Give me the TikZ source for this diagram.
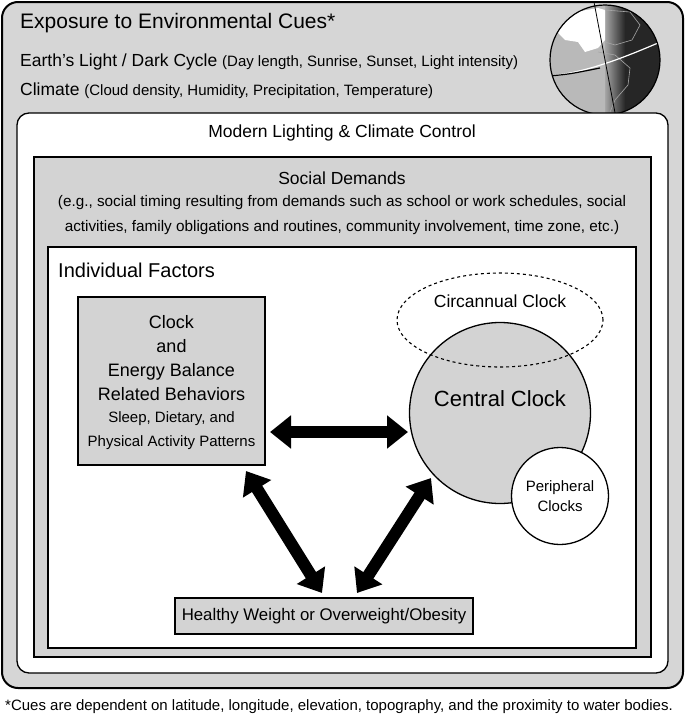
\documentclass[tikz,border=0pt]{standalone}
\usepackage{fontspec}
\setmainfont{Liberation Sans}
\usetikzlibrary{arrows.meta,shapes.geometric}
\definecolor{outg}{HTML}{D6D6D6}
\definecolor{boxg}{HTML}{D3D3D3}
\tikzset{
  t/.style={inner sep=0pt,font=\fontsize{17.5pt}{20pt}\selectfont},
  ts/.style={inner sep=0pt,font=\fontsize{15pt}{17pt}\selectfont},
  big/.style={line width=12pt,{Triangle[width=32pt,length=21pt]}-{Triangle[width=32pt,length=21pt]},shorten <=0pt,shorten >=0pt},
  frame/.style={draw=black,line width=1.3pt}
}
\begin{document}
\begin{tikzpicture}[x=1pt,y=-1pt]
\useasboundingbox (0,0) rectangle (685,728);
% outer
\draw[frame,line width=2pt,fill=outg,rounded corners=16pt] (2,2) rectangle (683,688);
\node[t,anchor=west,font=\fontsize{21pt}{23pt}\selectfont] (title) at (20,23) {Exposure to Environmental Cues*};
\node[t,anchor=west] (earth) at (20,62) {Earth's Light / Dark Cycle {\fontsize{15pt}{17pt}\selectfont(Day length, Sunrise, Sunset, Light intensity)}};
\node[t,anchor=west] (clim) at (20,91) {Climate {\fontsize{15pt}{17pt}\selectfont(Cloud density, Humidity, Precipitation, Temperature)}};
% globe
\begin{scope}
\clip (605,60) circle (55);
\fill[gray!55] (550,0) rectangle (610,120);
\shade[left color=gray!70,right color=black!85] (605,0) rectangle (625,120);
\fill[black!85] (625,0) rectangle (665,120);
\fill[white] (555,30) -- (575,12) -- (598,8) -- (605,10) -- (605,40) -- (598,48) -- (585,52) -- (578,42) -- (565,40) -- cycle;
\draw[gray!70,line width=0.6pt] (605,10) -- (630,12) -- (640,25) -- (632,40) -- (615,45) -- (605,42);
\draw[gray!70,line width=0.6pt] (598,52) -- (615,55) -- (630,68) -- (628,85) -- (615,100) -- (610,112);
\draw[white,line width=1.2pt] (550,76) .. controls (590,72) and (630,55) .. (665,40);
\draw[black,line width=1.2pt] (550,76) .. controls (570,74) .. (600,68);
\end{scope}
\draw[line width=1.2pt] (605,60) circle (55);
\draw[line width=0.8pt] (594,2) -- (616,118);
% modern lighting
\draw[frame,fill=white,rounded corners=12pt] (17,113) rectangle (668,673);
\node[t] (modern) at (342,133) {Modern Lighting \& Climate Control};
% social
\draw[frame,fill=boxg] (34,157) rectangle (651,657);
\node[t] (social) at (342,178) {Social Demands};
\node[ts,align=center,font=\fontsize{15.3pt}{25pt}\selectfont] (eg) at (342,215) {(e.g., social timing resulting from demands such as school or work schedules, social\\activities, family obligations and routines, community involvement, time zone, etc.)};
% individual
\draw[frame,fill=white] (48,247) rectangle (636,648);
\node[t,anchor=west,font=\fontsize{20pt}{22pt}\selectfont] (ind) at (58,270) {Individual Factors};
% clock box
\node[frame,fill=boxg,minimum width=187pt,minimum height=168pt,inner sep=0pt] (cbox) at (171.5,381) {};
\node[t,align=center,font=\fontsize{18pt}{24pt}\selectfont] (cbt) at (171.5,358) {Clock\\and\\Energy Balance\\Related Behaviors};
\node[ts,align=center,font=\fontsize{15pt}{24pt}\selectfont] (cbs) at (171.5,431) {Sleep, Dietary, and\\Physical Activity Patterns};
% central clock
\node[circle,frame,fill=boxg,minimum size=181pt,inner sep=0pt] (central) at (500,413) {};
\node[t,font=\fontsize{22pt}{24pt}\selectfont] (ctext) at (500,399) {Central Clock};
\node[ellipse,draw,dashed,line width=1.1pt,minimum width=206pt,minimum height=94pt,inner sep=0pt] (circ) at (500,320) {};
\node[t] (ctxt) at (500,301) {Circannual Clock};
\node[circle,frame,fill=white,minimum size=97pt,inner sep=0pt,align=center,font=\fontsize{15pt}{20pt}\selectfont] (peri) at (560,496) {Peripheral\\Clocks};
% healthy
\node[frame,fill=boxg,minimum width=298pt,minimum height=36pt,inner sep=0pt,font=\fontsize{16.8pt}{19pt}\selectfont] (hw) at (324,616) {Healthy Weight or Overweight/Obesity};
% arrows
\coordinate (a1) at (270,432); \coordinate (a2) at (408,432);
\coordinate (b1) at (246,471); \coordinate (b2) at (322,593);
\coordinate (c1) at (357,593); \coordinate (c2) at (431,478);
\draw[big] (a1) -- (a2);
\draw[big] (b1) -- (b2);
\draw[big] (c1) -- (c2);
% footnote
\node[ts,anchor=west,font=\fontsize{15pt}{17pt}\selectfont] (foot) at (5,707) {*Cues are dependent on latitude, longitude, elevation, topography, and the proximity to water bodies.};
\end{tikzpicture}
\end{document}
